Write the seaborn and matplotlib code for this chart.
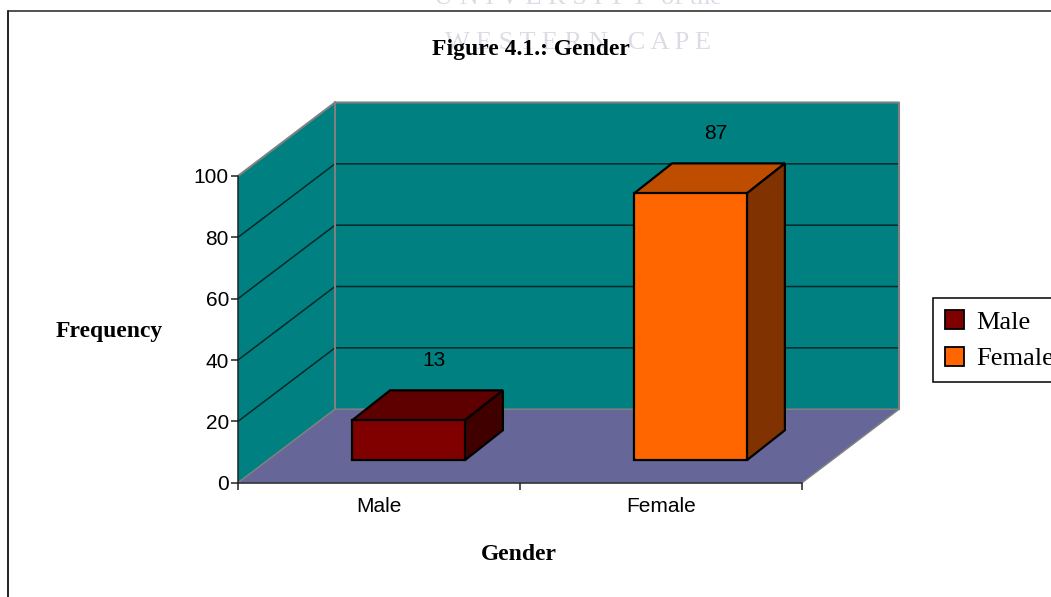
import matplotlib
matplotlib.use("Agg")
import matplotlib.pyplot as plt
from matplotlib.lines import Line2D
from matplotlib.patches import Rectangle
import pandas as pd
import seaborn as sns

categories = ["Male", "Female"]
values = [13, 87]
y_ticks = [0, 20, 40, 60, 80, 100]
title = "Figure 4.1.: Gender"
x_title = "Gender"
y_title = "Frequency"
front_colors = ["#800000", "#FF6600"]
top_colors = ["#5F0000", "#BF4D00"]
side_colors = ["#400000", "#803300"]

W, H = 1051, 597
def fx(x): return x / W
def fy(y): return 1 - y / H

sns.set_theme(style="white")
SANS = "Liberation Sans"
SERIF = "Liberation Serif"
fig = plt.figure(figsize=(W / 100, H / 100), dpi=100, facecolor="white")
ax = fig.add_axes([fx(238), fy(482.7), fx(802 - 238), (482.7 - 176) / H])
ax.patch.set_visible(False)

df = pd.DataFrame({"cat": categories, "val": values})
sns.barplot(data=df, x="cat", y="val", hue="cat", palette=front_colors, dodge=False,
            width=0.4, ax=ax, legend=False, saturation=1, edgecolor="black", linewidth=1.6, zorder=6)
ax.set_xlim(-0.5, 1.5)
ax.set_ylim(0, 100)

# px -> data scale
ux = (802 - 238) / 2
uy = (482.7 - 176) / 100
wall_dx, wall_dy = 97 / ux, 73.5 / uy
bar_dx, bar_dy = 29.5 / ux, 22.5 / uy
depth_dx, depth_dy = 38 / ux, 30 / uy

x0, x1 = ax.get_xlim()
y0, y1 = ax.get_ylim()
wall = "#008080"
ax.fill([x0, x0 + wall_dx, x0 + wall_dx, x0], [y0, y0 + wall_dy, y1 + wall_dy, y1],
        color=wall, lw=0, clip_on=False, zorder=1)
ax.fill([x0 + wall_dx, x1 + wall_dx, x1 + wall_dx, x0 + wall_dx],
        [y0 + wall_dy, y0 + wall_dy, y1 + wall_dy, y1 + wall_dy],
        color=wall, lw=0, clip_on=False, zorder=1)
ax.fill([x0, x1, x1 + wall_dx, x0 + wall_dx], [y0, y0, y0 + wall_dy, y0 + wall_dy],
        color="#666699", lw=0, clip_on=False, zorder=1)
for v in y_ticks[1:-1]:
    ax.plot([x0, x0 + wall_dx, x1 + wall_dx], [v, v + wall_dy, v + wall_dy],
            color="#002a2a", lw=1.1, clip_on=False, zorder=2)
edge = dict(color="#808080", lw=1.5, clip_on=False, zorder=3)
ax.plot([x0, x0 + wall_dx, x1 + wall_dx, x1 + wall_dx], [y1, y1 + wall_dy, y1 + wall_dy, y0 + wall_dy], **edge)
ax.plot([x0 + wall_dx, x0 + wall_dx], [y1 + wall_dy, y0 + wall_dy], **edge)
ax.plot([x0, x0 + wall_dx, x1 + wall_dx, x1], [y0, y0 + wall_dy, y0 + wall_dy, y0], color="#808080", lw=1.1,
        clip_on=False, zorder=3)

bars = [p for c in ax.containers for p in c]
for i, p in enumerate(bars):
    p.set_clip_on(False)
    p.set_x(p.get_x() + bar_dx)
    p.set_y(bar_dy)
    l, r = p.get_x(), p.get_x() + p.get_width()
    b, t = bar_dy, bar_dy + values[i]
    ax.fill([l, r, r + depth_dx, l + depth_dx], [t, t, t + depth_dy, t + depth_dy],
            facecolor=top_colors[i], edgecolor="black", lw=1.6, clip_on=False, zorder=5)
    ax.fill([r, r + depth_dx, r + depth_dx, r], [b, b + depth_dy, t + depth_dy, t],
            facecolor=side_colors[i], edgecolor="black", lw=1.6, clip_on=False, zorder=5)
    ax.text((l + r) / 2 + 25 / ux, t + 60 / uy, str(values[i]), ha="center", va="center",
            family=SANS, fontsize=15, color="black", zorder=7, clip_on=False)

for s in ("top", "right"):
    ax.spines[s].set_visible(False)
for s in ("left", "bottom"):
    ax.spines[s].set_color("#222222")
    ax.spines[s].set_linewidth(1.1)
    ax.spines[s].set_zorder(8)
ax.set_xlabel("")
ax.set_ylabel("")
ax.set_yticks(y_ticks)
ax.set_xticks([x0, (x0 + x1) / 2, x1], ["", "", ""])
ax.set_xticks(range(len(categories)), categories, minor=True)
ax.tick_params(axis="both", which="major", length=5, width=1.1, color="#222222", left=True, bottom=True)
ax.tick_params(axis="y", labelsize=15, pad=1.5)
ax.tick_params(axis="x", which="minor", length=0, labelsize=15, pad=10)
for t in ax.get_yticklabels() + ax.get_xticklabels(minor=True):
    t.set_family(SANS)
    t.set_color("black")

# watermark (scan of thesis page)
fig.text(fx(578), fy(49), "W E S T E R N   C A P E", family=SERIF, fontsize=19, color="#DCDCE6",
         ha="center", va="baseline", zorder=0)
fig.text(fx(578), fy(4), "U N I V E R S I T Y  of the", family=SERIF, fontsize=19, color="#DCDCE6",
         ha="center", va="baseline", zorder=0)

fig.add_artist(Line2D([fx(8), fx(8)], [0, fy(11)], color="#222222", lw=1.4))
fig.add_artist(Line2D([fx(8), 1], [fy(11), fy(11)], color="#222222", lw=1.1))

fig.text(fx(530.5), fy(49), title, family=SERIF, weight="bold", fontsize=17, color="black", ha="center", va="center")
fig.text(fx(109.5), fy(331), y_title, family=SERIF, weight="bold", fontsize=17, color="black", ha="center", va="center")
fig.text(fx(518.5), fy(554), x_title, family=SERIF, weight="bold", fontsize=17, color="black", ha="center", va="center")

# legend
handles = [Rectangle((0, 0), 1, 1, facecolor=c, edgecolor="black", lw=1.3) for c in front_colors]
leg = fig.legend(handles, categories, loc="upper left", bbox_to_anchor=(fx(933), fy(298)),
                 bbox_transform=fig.transFigure, borderaxespad=0, frameon=True, fancybox=False,
                 edgecolor="black", framealpha=1, prop={"family": SERIF, "size": 19},
                 handlelength=0.72, handleheight=0.72, handletextpad=0.45,
                 labelspacing=0.5, borderpad=0.45, labelcolor="black")
leg.get_frame().set_linewidth(1.1)
fig.savefig("out.png", dpi=100, facecolor="white")
